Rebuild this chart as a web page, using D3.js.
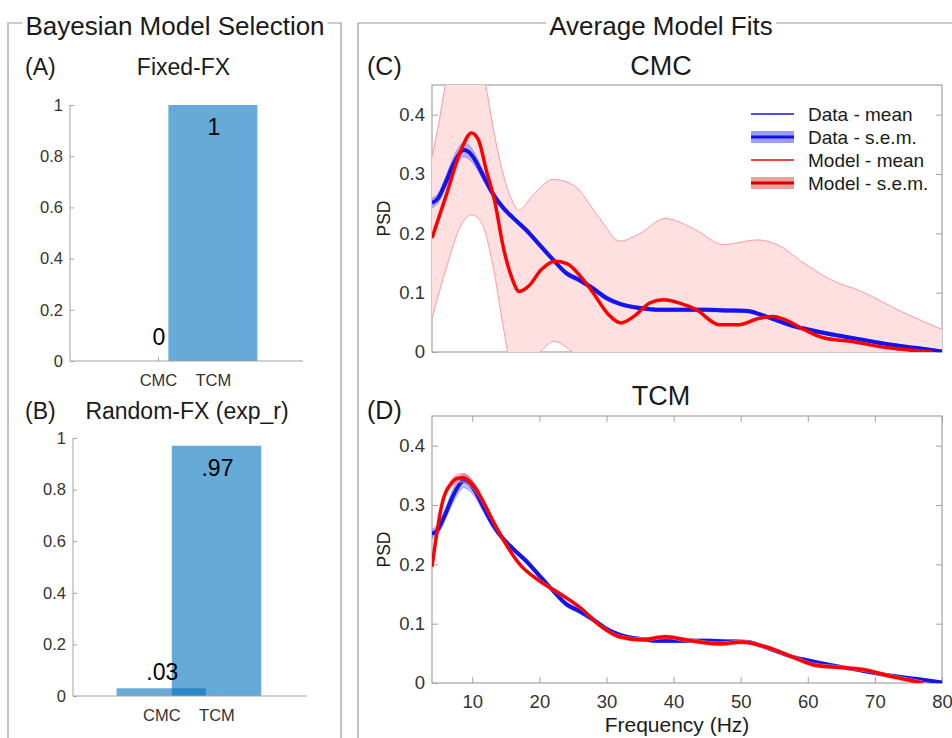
<!DOCTYPE html>
<html>
<head>
<meta charset="utf-8">
<script src="https://cdn.jsdelivr.net/npm/d3@7"></script>
<style>
  body { margin: 0; background: #fff; }
  text { font-family: "Liberation Sans", Arial, Helvetica, sans-serif; }
</style>
</head>
<body>
<svg id="chart" width="952" height="738"></svg>
<script>
// ---- data ----
const models = ["CMC", "TCM"];
const fixedFx = [0, 1];
const fixedFxLabels = ["0", "1"];
const randomFx = [0.03, 0.97];
const randomFxLabels = [".03", ".97"];
const barTicks = [0, 0.2, 0.4, 0.6, 0.8, 1];

// measured spectrum (same in both panels)
const dataFreq = [4, 4.9, 6, 7, 8, 8.7, 9.5, 10.5, 11.5, 13, 14.6, 16, 18, 20, 22, 24, 26, 28, 30, 32, 35, 38, 41, 45, 48, 51, 53, 55, 57.7, 60, 63.4, 66, 68, 72, 76, 80];
const dataMean = [0.251, 0.259, 0.285, 0.312, 0.333, 0.341, 0.337, 0.322, 0.300, 0.268, 0.243, 0.227, 0.206, 0.181, 0.156, 0.133, 0.121, 0.107, 0.091, 0.081, 0.074, 0.071, 0.071, 0.071, 0.070, 0.069, 0.063, 0.055, 0.044, 0.038, 0.030, 0.025, 0.021, 0.013, 0.007, 0.001];
const dataSem = [0.008, 0.008, 0.009, 0.011, 0.012, 0.012, 0.012, 0.010, 0.008, 0.006, 0.005, 0.004, 0.004, 0.004, 0.004, 0.004, 0.004, 0.004, 0.004, 0.003, 0.003, 0.003, 0.003, 0.003, 0.003, 0.003, 0.003, 0.003, 0.003, 0.003, 0.003, 0.002, 0.002, 0.002, 0.002, 0.002];

// CMC model fit
const cmcFreq = [4, 6.2, 8.2, 9.9, 10.9, 12.1, 13.4, 14.6, 15.9, 17.0, 18.4, 20.3, 22.3, 24.1, 26.1, 28.0, 30.3, 32.1, 34.1, 36.5, 38.5, 41, 43.3, 46.8, 49.7, 52.5, 54.8, 56.5, 59.4, 62.3, 66.3, 72, 78.6];
const cmcMean = [0.192, 0.267, 0.337, 0.369, 0.358, 0.306, 0.251, 0.178, 0.125, 0.102, 0.111, 0.139, 0.153, 0.149, 0.128, 0.100, 0.063, 0.049, 0.060, 0.083, 0.088, 0.082, 0.072, 0.046, 0.046, 0.056, 0.060, 0.055, 0.038, 0.024, 0.018, 0.007, 0.000];
const cmcUpperFreq = [4, 5, 6, 7, 8, 9.5, 11, 12, 13, 14.1, 15.9, 16.9, 19.1, 22.1, 25.1, 29, 32, 35, 38.7, 43.3, 47.4, 52.5, 55.4, 59.4, 63.4, 68, 73.8, 80];
const cmcUpper = [0.329, 0.385, 0.45, 0.49, 0.515, 0.525, 0.50, 0.45, 0.385, 0.323, 0.256, 0.239, 0.265, 0.291, 0.281, 0.225, 0.187, 0.200, 0.225, 0.206, 0.181, 0.189, 0.181, 0.150, 0.122, 0.102, 0.069, 0.038];
const cmcLowerFreq = [4, 6.2, 8.2, 9.9, 11.4, 13.1, 14.6, 15.5, 17, 19, 20.1, 22.2, 24, 25.1, 28, 32, 39, 47, 55, 63, 70, 80];
const cmcLower = [0.057, 0.144, 0.211, 0.231, 0.217, 0.144, 0.044, -0.01, -0.03, -0.01, 0.0, 0.018, 0.008, -0.002, -0.04, -0.085, -0.05, -0.09, -0.06, -0.08, -0.06, -0.04];

// TCM model fit
const tcmFreq = [4, 5.5, 7, 7.8, 8.7, 9.5, 10.5, 11.8, 13, 14.7, 17, 19.9, 22.7, 26.2, 29, 31.9, 35.3, 38.8, 42.2, 46.8, 50.2, 53.7, 57.7, 61.1, 65.1, 68.6, 72, 75, 77.2];
const tcmMean = [0.196, 0.302, 0.338, 0.345, 0.346, 0.341, 0.328, 0.302, 0.275, 0.240, 0.201, 0.173, 0.153, 0.126, 0.097, 0.078, 0.073, 0.078, 0.072, 0.066, 0.069, 0.061, 0.044, 0.030, 0.026, 0.022, 0.012, 0.005, 0.000];
const tcmSem = [0.004, 0.005, 0.006, 0.007, 0.007, 0.007, 0.006, 0.005, 0.004, 0.004, 0.003, 0.003, 0.003, 0.003, 0.003, 0.003, 0.003, 0.003, 0.003, 0.003, 0.003, 0.003, 0.003, 0.003, 0.003, 0.003, 0.003, 0.003, 0.003];

const psdTicks = [0, 0.1, 0.2, 0.3, 0.4];
const freqTicks = [10, 20, 30, 40, 50, 60, 70, 80];

const legendItems = ["Data - mean", "Data - s.e.m.", "Model - mean", "Model - s.e.m."];

// ---- styles ----
const textCol = "#1a1a1a";
const tickCol = "#333";
const axisCol = "#a3a3a3";
const boxCol = "#9a9a9a";
const barFill = "#0072BD";
const blue = "#1414eb";
const red = "#ff0000";

const svg = d3.select("#chart");

// group boxes with titles breaking the top line
function groupBox(left, right, top, title, cx) {
    const t = svg.append("text")
        .attr("x", cx).attr("y", 35)
        .attr("text-anchor", "middle")
        .attr("font-size", 26)
        .attr("fill", textCol)
        .text(title);
    const bb = t.node().getBBox();
    svg.append("path")
        .attr("d", `M${left},738V${top}H${bb.x - 3}M${bb.x + bb.width + 3},${top}H${right}` + (right < 952 ? `V738` : ""))
        .attr("fill", "none")
        .attr("stroke", boxCol)
        .attr("stroke-width", 1.2);
}
groupBox(8, 341, 23, "Bayesian Model Selection", 175);
groupBox(358, 960, 23, "Average Model Fits", 661);

// ---- bar panels ----
function barPanel(values, labels, xRange, yRange, tag, title, titleY) {
    const x = d3.scaleLinear().domain([-0.6, 3.64]).range(xRange);
    const y = d3.scaleLinear().domain([0, 1]).range(yRange);
    const g = svg.append("g");

    svg.append("text").attr("x", 25).attr("y", titleY)
        .attr("font-size", 23).attr("fill", textCol).text(tag);
    svg.append("text").attr("x", (xRange[0] + xRange[1]) / 2 - 3).attr("y", titleY)
        .attr("text-anchor", "middle")
        .attr("font-size", 23).attr("fill", textCol).text(title);

    const bw = 1.62;
    g.selectAll("rect.bar")
        .data(values)
        .join("rect")
        .attr("class", "bar")
        .attr("x", (d, i) => x(i + 1 - bw / 2))
        .attr("width", x(bw) - x(0))
        .attr("y", d => y(d))
        .attr("height", d => y(0) - y(d))
        .attr("fill", barFill)
        .attr("fill-opacity", 0.6);

    const ya = g.append("g")
        .attr("transform", `translate(${xRange[0]},0)`)
        .call(d3.axisLeft(y).tickValues(barTicks).tickSize(-4).tickPadding(7)
            .tickFormat(d => (d === 0 || d === 1) ? String(d) : d.toFixed(1)));
    const xa = g.append("g")
        .attr("transform", `translate(0,${yRange[0]})`)
        .call(d3.axisBottom(x).tickValues([1, 2]).tickSize(-4).tickPadding(13)
            .tickFormat((d, i) => models[i]));
    [ya, xa].forEach(a => {
        a.select(".domain").attr("stroke", axisCol);
        a.selectAll(".tick line").attr("stroke", axisCol);
        a.selectAll("text").attr("fill", tickCol).attr("font-size", 16.5)
            .attr("font-family", "'Liberation Sans', Arial, sans-serif");
    });
    // domain lines without end caps
    ya.select(".domain").attr("d", `M0,${yRange[1]}V${yRange[0]}`);
    xa.select(".domain").attr("d", `M${xRange[0]},0H${xRange[1]}`);

    g.selectAll("text.val")
        .data(values)
        .join("text")
        .attr("class", "val")
        .attr("x", (d, i) => x(i + 1) + 1)
        .attr("y", d => d > 0.5 ? y(d) + 30 : y(Math.max(d, 0.05)) - 3)
        .attr("text-anchor", "middle")
        .attr("font-size", 23)
        .attr("fill", "#000")
        .text((d, i) => labels[i]);
}
barPanel(fixedFx, fixedFxLabels, [70, 303], [361, 105], "(A)", "Fixed-FX", 75);
barPanel(randomFx, randomFxLabels, [73, 307], [696, 438], "(B)", "Random-FX (exp_r)", 419);

// ---- PSD panels ----
const x = d3.scaleLinear().domain([4, 80]).range([432, 942]);
const pts = (fs, vs) => fs.map((f, i) => [f, vs[i]]);

function psdPanel(id, top, bottom, tag, title, tagY, titleY, showX) {
    const y = d3.scaleLinear().domain([0, 0.45]).range([bottom, top]);
    const g = svg.append("g");

    svg.append("text").attr("x", 367).attr("y", tagY)
        .attr("font-size", 25).attr("fill", textCol).text(tag);
    svg.append("text").attr("x", 661).attr("y", titleY)
        .attr("text-anchor", "middle")
        .attr("font-size", 27).attr("fill", textCol).text(title);

    svg.append("defs").append("clipPath").attr("id", id)
        .append("rect").attr("x", 432).attr("y", top).attr("width", 510).attr("height", bottom - top);

    const ya = g.append("g").attr("transform", "translate(432,0)")
        .call(d3.axisLeft(y).tickValues(psdTicks).tickSize(-6).tickPadding(7)
            .tickFormat(d => d === 0 ? "0" : d.toFixed(1)));
    const yb = g.append("g").attr("transform", "translate(942,0)")
        .call(d3.axisRight(y).tickValues(psdTicks).tickSize(-6).tickFormat(""));
    const axes = [ya, yb];
    if (showX) {
        axes.push(g.append("g").attr("transform", `translate(0,${bottom})`)
            .call(d3.axisBottom(x).tickValues(freqTicks).tickSize(-6).tickPadding(12)));
        axes.push(g.append("g").attr("transform", `translate(0,${top})`)
            .call(d3.axisTop(x).tickValues(freqTicks).tickSize(-6).tickFormat("")));
    }
    axes.forEach(a => {
        a.select(".domain").remove();
        a.selectAll(".tick line").attr("stroke", axisCol);
        a.selectAll("text").attr("fill", tickCol).attr("font-size", 18.5)
            .attr("font-family", "'Liberation Sans', Arial, sans-serif");
    });
    g.append("rect").attr("x", 432).attr("y", top).attr("width", 510).attr("height", bottom - top)
        .attr("fill", "none").attr("stroke", axisCol).attr("stroke-width", 1.2);

    svg.append("text")
        .attr("transform", `translate(390,${(top + bottom) / 2}) rotate(-90)`)
        .attr("text-anchor", "middle")
        .attr("font-size", 17.5).attr("fill", textCol).text("PSD");

    const plot = svg.append("g").attr("clip-path", `url(#${id})`);
    return { y, plot };
}

function drawSem(plot, y, fs, mean, sem, fill, edge) {
    const area = d3.area().curve(d3.curveMonotoneX)
        .x((d, i) => x(fs[i]))
        .y0((d, i) => y(mean[i] - sem[i]))
        .y1((d, i) => y(mean[i] + sem[i]));
    plot.append("path").attr("d", area(mean)).attr("fill", fill);
    [-1, 1].forEach(s => {
        plot.append("path")
            .attr("d", d3.line().curve(d3.curveMonotoneX)(fs.map((f, i) => [x(f), y(mean[i] + s * sem[i])])))
            .attr("fill", "none").attr("stroke", edge).attr("stroke-width", 0.8);
    });
}

function drawLine(plot, y, fs, vs, color, w) {
    plot.append("path")
        .attr("d", d3.line().curve(d3.curveMonotoneX)(fs.map((f, i) => [x(f), y(vs[i])])))
        .attr("fill", "none").attr("stroke", color).attr("stroke-width", w)
        .attr("stroke-linejoin", "round");
}

// panel C
const C = psdPanel("clipC", 85, 352, "(C)", "CMC", 75, 75, false);
{
    const lineC = d3.line().curve(d3.curveMonotoneX).x(d => x(d[0])).y(d => C.y(d[1]));
    const up = pts(cmcUpperFreq, cmcUpper);
    const lo = pts(cmcLowerFreq, cmcLower).reverse();
    const bandPath = lineC(up) + "L" + lineC(lo).slice(1) + "Z";
    C.plot.append("path").attr("d", bandPath).attr("fill", "#ffe0e0");
    C.plot.append("path").attr("d", lineC(up)).attr("fill", "none").attr("stroke", "#ff9a9a").attr("stroke-width", 1);
    C.plot.append("path").attr("d", lineC(lo)).attr("fill", "none").attr("stroke", "#ff9a9a").attr("stroke-width", 1);
    drawSem(C.plot, C.y, dataFreq, dataMean, dataSem, "rgba(70,70,255,0.35)", "#8a8aff");
    drawLine(C.plot, C.y, dataFreq, dataMean, blue, 4);
    drawLine(C.plot, C.y, cmcFreq, cmcMean, red, 3.5);
}

// legend
{
    const lg = svg.append("g");
    const rowY = d3.scalePoint().domain(legendItems).range([114, 183]);
    legendItems.forEach((name, i) => {
        const yy = rowY(name);
        if (i === 1) lg.append("rect").attr("x", 751).attr("y", yy - 6).attr("width", 43).attr("height", 12).attr("fill", "#9d9df5");
        if (i === 3) lg.append("rect").attr("x", 751).attr("y", yy - 6).attr("width", 43).attr("height", 12).attr("fill", "#e8a299");
        lg.append("line").attr("x1", 751).attr("x2", 794).attr("y1", yy).attr("y2", yy)
            .attr("stroke", i < 2 ? blue : (i === 3 ? "#d40000" : red))
            .attr("stroke-width", i % 2 ? 3 : 1.5);
        lg.append("text").attr("x", 808).attr("y", yy).attr("dy", "0.36em")
            .attr("font-size", 19).attr("fill", textCol).text(name);
    });
}

// panel D
const D = psdPanel("clipD", 416, 683, "(D)", "TCM", 419, 405, true);
drawSem(D.plot, D.y, dataFreq, dataMean, dataSem, "rgba(70,70,255,0.35)", "#8a8aff");
drawLine(D.plot, D.y, dataFreq, dataMean, blue, 4);
drawSem(D.plot, D.y, tcmFreq, tcmMean, tcmSem, "rgba(255,80,80,0.35)", "#ff9a9a");
drawLine(D.plot, D.y, tcmFreq, tcmMean, red, 3.5);

svg.append("text").attr("x", 677).attr("y", 732)
    .attr("text-anchor", "middle")
    .attr("font-size", 21).attr("fill", textCol).text("Frequency (Hz)");
</script>
</body>
</html>
